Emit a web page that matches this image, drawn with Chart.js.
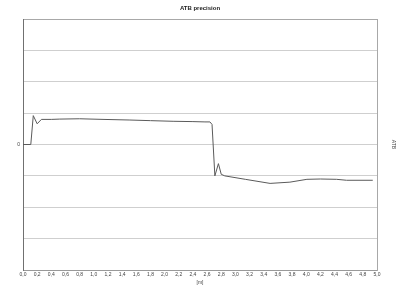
<!DOCTYPE html>
<html>
<head>
<meta charset="utf-8">
<title>ATB precision</title>
<script src="https://cdn.jsdelivr.net/npm/chart.js@4/dist/chart.umd.min.js"></script>
<style>
  html, body { margin: 0; padding: 0; background: #fff; }
  canvas { display: block; }
</style>
</head>
<body>
<canvas id="chart" width="400" height="295"></canvas>
<script>
  // distance [m] and ATB value
  const distance = [0.0, 0.11, 0.145, 0.20, 0.26, 0.40, 0.52, 0.80, 1.13, 1.51, 1.80, 2.12, 2.40, 2.57, 2.64, 2.67, 2.71, 2.76, 2.80, 2.85, 3.14, 3.49, 3.77, 4.01, 4.20, 4.43, 4.57, 4.94];
  const atb = [0, 0, 0.92, 0.66, 0.80, 0.80, 0.81, 0.82, 0.80, 0.78, 0.76, 0.74, 0.73, 0.72, 0.72, 0.64, -1.0, -0.61, -0.95, -1.0, -1.11, -1.24, -1.20, -1.11, -1.10, -1.11, -1.14, -1.14];
  const yTicks = [-4, -3, -2, -1, 0, 1, 2, 3, 4];

  const points = distance.map((d, i) => ({ x: d, y: atb[i] }));
  const font = { family: "'Liberation Sans', Arial, sans-serif", size: 5 };

  new Chart(document.getElementById("chart"), {
    type: "scatter",
    data: {
      datasets: [
        {
          label: "ATB",
          data: points,
          showLine: true,
          borderColor: "#5a5a5a",
          borderWidth: 1,
          pointRadius: 0,
          tension: 0,
          fill: false,
        },
      ],
    },
    options: {
      responsive: false,
      animation: false,
      devicePixelRatio: 1,
      layout: { padding: 0 },
      plugins: {
        legend: { display: false },
        tooltip: { enabled: false },
        title: {
          display: true,
          text: "ATB precision",
          color: "#222",
          font: { family: font.family, size: 6, weight: "bold" },
          padding: { top: 5, bottom: 6.8 },
        },
      },
      scales: {
        x: {
          type: "linear",
          min: 0,
          max: 5,
          ticks: {
            stepSize: 0.2,
            color: "#444",
            font: font,
            padding: 2,
            maxRotation: 0,
            autoSkip: false,
            callback: (v) => v.toFixed(1).replace(".", ","),
          },
          grid: { display: false, drawTicks: false },
          border: { color: "#999", width: 1 },
          title: { display: true, text: "[m]", color: "#444", font: font, padding: { top: 0, bottom: 9 } },
          afterFit: (s) => { s.height = 25; },
        },
        y: {
          min: -4,
          max: 4,
          afterBuildTicks: (s) => { s.ticks = yTicks.map((v) => ({ value: v })); },
          ticks: {
            color: "#444",
            font: font,
            padding: 3,
            callback: (v) => (v === 0 ? "0" : ""),
          },
          grid: {
            drawTicks: false,
            color: (c) => (c.tick && c.tick.value === 4 ? "#a8a8a8" : "#cfcfcf"),
            lineWidth: 1,
          },
          border: { color: "#707070", width: 1 },
          afterFit: (s) => { s.width = 23; },
        },
        y2: {
          position: "right",
          min: -4,
          max: 4,
          ticks: { display: false },
          grid: { display: false, drawTicks: false },
          border: { color: "#a8a8a8", width: 1 },
          title: { display: true, text: "ATB", color: "#444", font: font, padding: { top: 4, bottom: 0 } },
          afterFit: (s) => { s.width = 23; },
        },
      },
    },
  });
</script>
</body>
</html>
